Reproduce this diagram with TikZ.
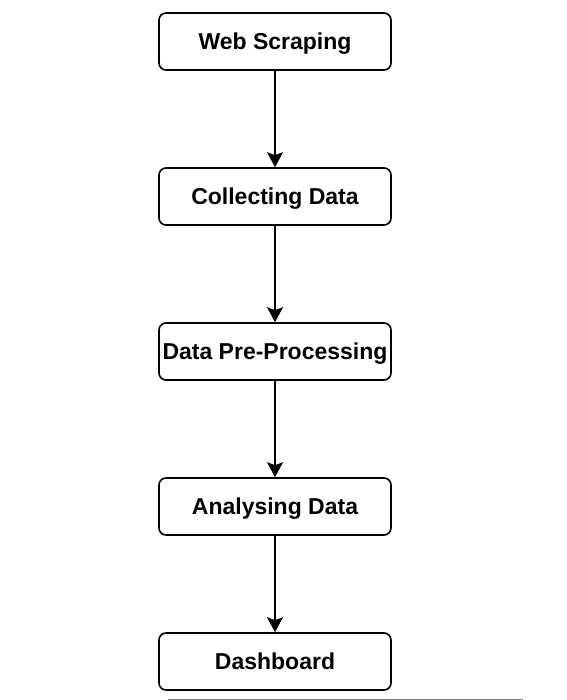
\documentclass[tikz,border=0pt]{standalone}
\usepackage{fontspec}
\setmainfont{Liberation Sans}
\usetikzlibrary{arrows.meta}
\begin{document}
\begin{tikzpicture}[x=1pt,y=-1pt,
  stepbox/.style={draw=black, line width=1.6pt, rounded corners=7pt, fill=white,
    minimum width=232pt, minimum height=57pt, inner sep=0pt,
    text height=16.5pt, text depth=0pt,
    font=\fontsize{23}{27}\selectfont\bfseries},
  flow/.style={line width=1.6pt, -{Stealth[length=15pt,width=16pt,inset=3pt]}}]
  \useasboundingbox (0,0) rectangle (566,700);
  \node[stepbox] (web) at (275,41.5) {Web Scraping};
  \node[stepbox] (collect) at (275,196.5) {Collecting Data};
  \node[stepbox] (prep) at (275,351.5) {Data Pre-Processing};
  \node[stepbox] (analyse) at (275,506.5) {Analysing Data};
  \node[stepbox] (dash) at (275,661.5) {Dashboard};
  \draw[flow] (web) -- (collect);
  \draw[flow] (collect) -- (prep);
  \draw[flow] (prep) -- (analyse);
  \draw[flow] (analyse) -- (dash);
  \coordinate (rulestart) at (168,699);
  \coordinate (ruleend) at (523,699);
  \draw[gray, line width=1pt] (rulestart) -- (ruleend);
\end{tikzpicture}
\end{document}
